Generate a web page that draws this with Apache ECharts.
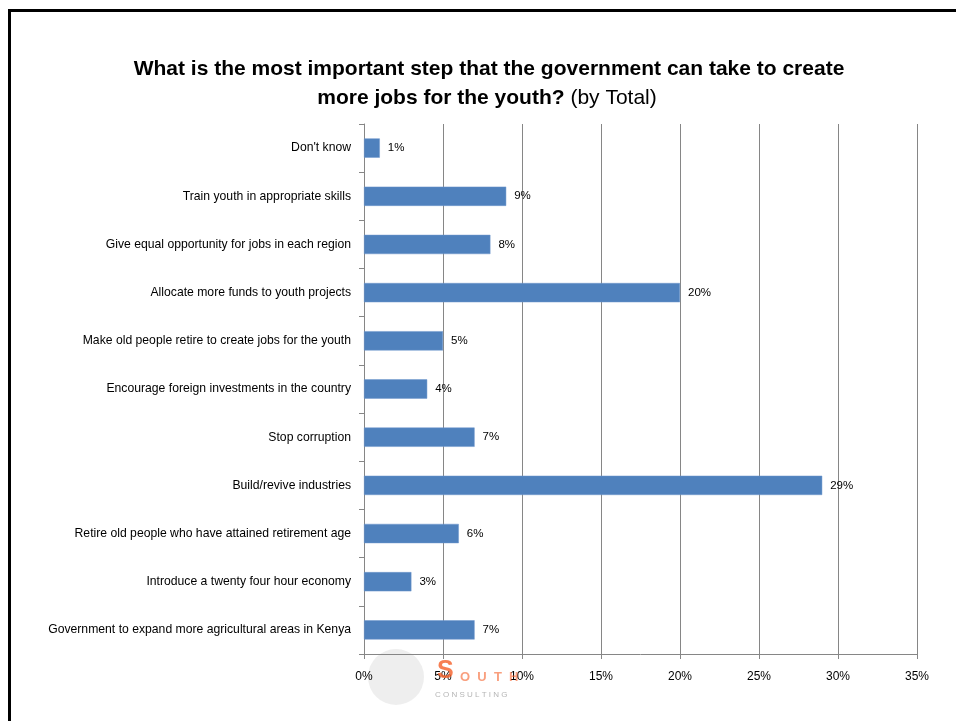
<!DOCTYPE html>
<html>
<head>
<meta charset="utf-8">
<script src="https://cdn.jsdelivr.net/npm/echarts@6/dist/echarts.min.js"></script>
<style>
html,body{margin:0;padding:0;background:#fff;}
#chart{width:956px;height:721px;}
</style>
</head>
<body>
<div id="chart"></div>
<script>
// Categories listed from bottom to top (ECharts category y-axis draws first item at bottom)
var categories = [
  "Government to expand more agricultural areas in Kenya",
  "Introduce a twenty four hour economy",
  "Retire old people who have attained retirement age",
  "Build/revive industries",
  "Stop corruption",
  "Encourage foreign investments in the country",
  "Make old people retire to create jobs for the youth",
  "Allocate more funds to youth projects",
  "Give equal opportunity for jobs in each region",
  "Train youth in appropriate skills",
  "Don't know"
];
var values = [7, 3, 6, 29, 7, 4, 5, 20, 8, 9, 1];
var xTicks = [0, 5, 10, 15, 20, 25, 30, 35];
var titleLine1 = "What is the most important step that the government can take to create";
var titleLine2 = "more jobs for the youth?";
var titleSuffix = " (by Total)";

var chart = echarts.init(document.getElementById('chart'), null, {renderer: 'canvas'});
var font = "'Liberation Sans', Arial, sans-serif";
chart.setOption({
  animation: false,
  backgroundColor: '#ffffff',
  graphic: [
    {type: 'rect', shape: {x: 9.5, y: 10.5, width: 960, height: 730}, style: {fill: 'none', stroke: '#000', lineWidth: 3}, z: 100},
    {type: 'text', x: 489, y: 69, style: {
      text: titleLine1, fontFamily: font, fontWeight: 'bold', fontSize: 21, fill: '#000',
      textAlign: 'center', textVerticalAlign: 'middle'
    }},
    {type: 'text', x: 487, y: 98, style: {
      rich: {b: {fontFamily: font, fontWeight: 'bold', fontSize: 21, fill: '#000'},
             n: {fontFamily: font, fontSize: 21, fill: '#000'}},
      text: '{b|' + titleLine2 + '}{n|' + titleSuffix + '}',
      textAlign: 'center', textVerticalAlign: 'middle'
    }},
    {type: 'circle', shape: {cx: 396, cy: 677, r: 28}, style: {fill: 'rgba(205,205,205,0.35)'}, z: 0},
    {type: 'text', left: 437, top: 659, style: {text: 'S', fontFamily: font, fontWeight: 'bold', fontSize: 25, fill: 'rgba(245,95,40,0.8)'}, z: 1},
    {type: 'text', left: 460, top: 671, style: {text: 'O  U  T  H', fontFamily: font, fontWeight: 'bold', fontSize: 13, fill: 'rgba(245,95,40,0.6)'}, z: 1},
    {type: 'text', left: 435, top: 691, style: {text: 'C O N S U L T I N G', fontFamily: font, fontSize: 8, fill: 'rgba(130,130,130,0.6)'}, z: 1}
  ],
  grid: {left: 364, right: 39, top: 124, bottom: 67, containLabel: false},
  xAxis: {
    type: 'value', min: 0, max: 35, interval: 5,
    axisLine: {show: true, lineStyle: {color: '#868686', width: 1}},
    axisTick: {show: true, length: 5, lineStyle: {color: '#868686'}},
    splitLine: {show: true, lineStyle: {color: '#868686', width: 1}},
    axisLabel: {
      formatter: function (v) { return xTicks.indexOf(v) >= 0 ? v + '%' : ''; },
      fontFamily: font, fontSize: 12, color: '#000', margin: 17
    }
  },
  yAxis: {
    type: 'category', data: categories,
    axisLine: {show: true, lineStyle: {color: '#868686', width: 1}},
    axisTick: {show: true, length: 5, inside: false, lineStyle: {color: '#868686'}},
    axisLabel: {fontFamily: font, fontSize: 12.2, color: '#000', margin: 13}
  },
  series: [{
    type: 'bar', data: values, barCategoryGap: '60%',
    itemStyle: {color: '#4F81BD', borderColor: '#6E97CC', borderWidth: 0.5},
    label: {show: true, position: 'right', distance: 8, formatter: '{c}%', fontFamily: font, fontSize: 11.5, color: '#000'}
  }]
});
</script>
</body>
</html>
